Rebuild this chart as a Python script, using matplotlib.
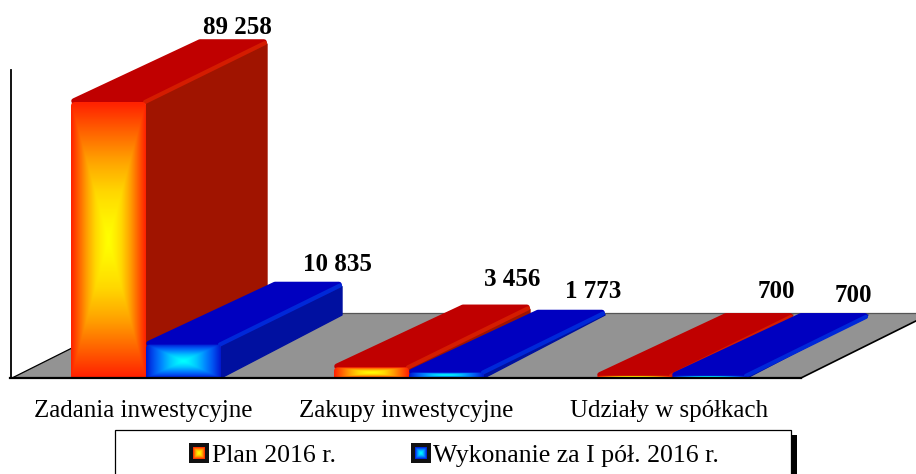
#!/usr/bin/env python3
"""Wydatki majatkowe: plan vs wykonanie, pseudo 3D bars drawn by hand."""
import numpy as np
import matplotlib
matplotlib.use('Agg')
import matplotlib.pyplot as plt
from matplotlib.colors import LinearSegmentedColormap
from matplotlib.path import Path
from matplotlib.patches import PathPatch, Polygon, Rectangle

plt.rcParams['font.family'] = ['Liberation Serif', 'DejaVu Serif']

categories = ['Zadania inwestycyjne', 'Zakupy inwestycyjne', 'Udziały w spółkach']
series_names = ['Plan 2016 r.', 'Wykonanie za I pół. 2016 r.']
plan = [89258, 3456, 700]
wykonanie = [10835, 1773, 700]
value_labels = [['89 258', '3 456', '700'], ['10 835', '1 773', '700']]

# layout, everything in pixels of the 916x474 picture
W, H = 916, 474
BASE_Y = 378
PX_PER_UNIT = 276 / 89258
BAR_W = 75
GROUP_X0 = 71
GROUP_STEP = 263
DEPTH_X, DEPTH_Y = 121, 63
# offset of each value label from the back centre of its bar top
label_offsets = [[(8, 5), (20, 18), (21, 15)], [(33, 10), (26, 12), (23, 11)]]

warm = LinearSegmentedColormap.from_list('warm', ['#ffff00', '#ffd800', '#ffa000', '#ff6000', '#ff2200'])
cold = LinearSegmentedColormap.from_list('cold', ['#00ffff', '#00c8ff', '#0088ff', '#0050f0', '#0018d0'])
styles = [
    dict(cmap=warm, top='#c00000', side='#a01400', edge='#d41c00'),
    dict(cmap=cold, top='#0000c0', side='#0010a0', edge='#0028d8'),
]


def px(y):
    """Pixel distance to value units."""
    return y / PX_PER_UNIT


def box_gradient(n=101):
    u = np.linspace(-1, 1, n)
    return np.maximum(np.abs(u)[None, :], np.abs(u)[:, None]) ** 1.3


def rounded_front(x0, x1, top, r=4):
    r_y = min(px(r), top * 0.6)
    verts = [(x0, 0), (x0, top - r_y), (x0, top), (x0 + r, top), (x1 - r, top),
             (x1, top), (x1, top - r_y), (x1, 0), (x0, 0)]
    codes = [Path.MOVETO, Path.LINETO, Path.CURVE3, Path.CURVE3, Path.LINETO,
             Path.CURVE3, Path.CURVE3, Path.LINETO, Path.CLOSEPOLY]
    return Path(verts, codes)


def draw_bar(ax, x0, value, st):
    x1 = x0 + BAR_W
    dy = px(DEPTH_Y)
    above_floor = Rectangle((0, 0), W, px(BASE_Y), transform=ax.transData)
    side_top = max(value + dy - px(5), dy)
    side = [(x1, 0), (x1 + DEPTH_X, dy), (x1 + DEPTH_X, side_top), (x1, value)]
    p = Polygon(side, closed=True, fc=st['side'], ec=st['side'], lw=1, joinstyle='round', zorder=3)
    ax.add_patch(p)
    # inset polygon with a fat round stroke gives the soft corners
    top = [(x0 + 3, value + px(1)), (x0 + DEPTH_X + 8, value + dy - px(3)),
           (x1 + DEPTH_X - 3, value + dy - px(3)), (x1 - 3, value + px(1))]
    p = Polygon(top, closed=True, fc=st['top'], ec=st['top'], lw=4, joinstyle='round', zorder=3)
    ax.add_patch(p)
    p.set_clip_path(above_floor)
    # lighter bevel along the right top edge
    ln, = ax.plot([x1 - 1, x1 + DEPTH_X - 2], [value, value + dy - px(4)], color=st['edge'], lw=3,
                  solid_capstyle='round', zorder=3)
    ln.set_clip_path(above_floor)
    im = ax.imshow(box_gradient(), cmap=st['cmap'], extent=(x0, x1, 0, value), aspect='auto',
                   origin='lower', zorder=4, interpolation='bilinear')
    im.set_clip_path(PathPatch(rounded_front(x0, x1, value), transform=ax.transData))


fig = plt.figure(figsize=(W / 100, H / 100), dpi=100)
ax = fig.add_axes([0, 0, 1, 1])
ax.axis('off')

# floor and wall
floor_dy = px(65)
ax.add_patch(Polygon([(12, 0), (142, floor_dy), (932, floor_dy), (801, 0)], closed=True,
                     fc='#939393', ec='none', zorder=1))
ax.plot([142, 932], [floor_dy, floor_dy], color='#555555', lw=0.9, zorder=2)
ax.plot([12, 142], [0, floor_dy], color='black', lw=0.9, zorder=2)
ax.plot([801, 932], [0, floor_dy], color='black', lw=1.2, zorder=2)
ax.plot([11, 11], [0, px(BASE_Y - 70)], color='black', lw=1.3, zorder=5)
ax.plot([10, 801], [0, 0], color='black', lw=1.6, zorder=5)

for s, values in enumerate([plan, wykonanie]):
    for i, v in enumerate(values):
        x0 = GROUP_X0 + GROUP_STEP * i + BAR_W * s
        draw_bar(ax, x0, v, styles[s])
        ax.annotate(value_labels[s][i], xy=(x0 + BAR_W / 2 + DEPTH_X, v + px(DEPTH_Y)),
                    xytext=label_offsets[s][i], textcoords='offset pixels', ha='center', va='baseline',
                    fontsize=18, fontweight='bold', color='black', zorder=6)

# category labels
for x, name in zip([143, 406, 669], categories):
    ax.text(x, px(BASE_Y - 417), name, ha='center', va='baseline', fontsize=18, color='black')

# legend box, runs off the bottom of the picture
ax.add_patch(Rectangle((791, px(BASE_Y - 480)), 6, px(45), fc='black', ec='none', zorder=6))
ax.add_patch(Rectangle((115, px(BASE_Y - 480)), 675.5, px(50), fc='white', ec='black', lw=0.9, zorder=7))
for x, name, st, tx in zip([189, 411], series_names, styles, [212, 433]):
    ax.add_patch(Rectangle((x, px(BASE_Y - 463)), 20, px(20), fc='#111111', ec='none', zorder=8))
    ax.imshow(box_gradient(), cmap=st['cmap'], extent=(x + 4, x + 16, px(BASE_Y - 459), px(BASE_Y - 447)),
              aspect='auto', origin='lower', zorder=9)
    ax.text(tx, px(BASE_Y - 462), name, ha='left', va='baseline', fontsize=18.5, color='black', zorder=9)

ax.set_xlim(0, W)
ax.set_ylim(px(BASE_Y - H), px(BASE_Y))

fig.savefig('out.png', dpi=100, facecolor='white')
